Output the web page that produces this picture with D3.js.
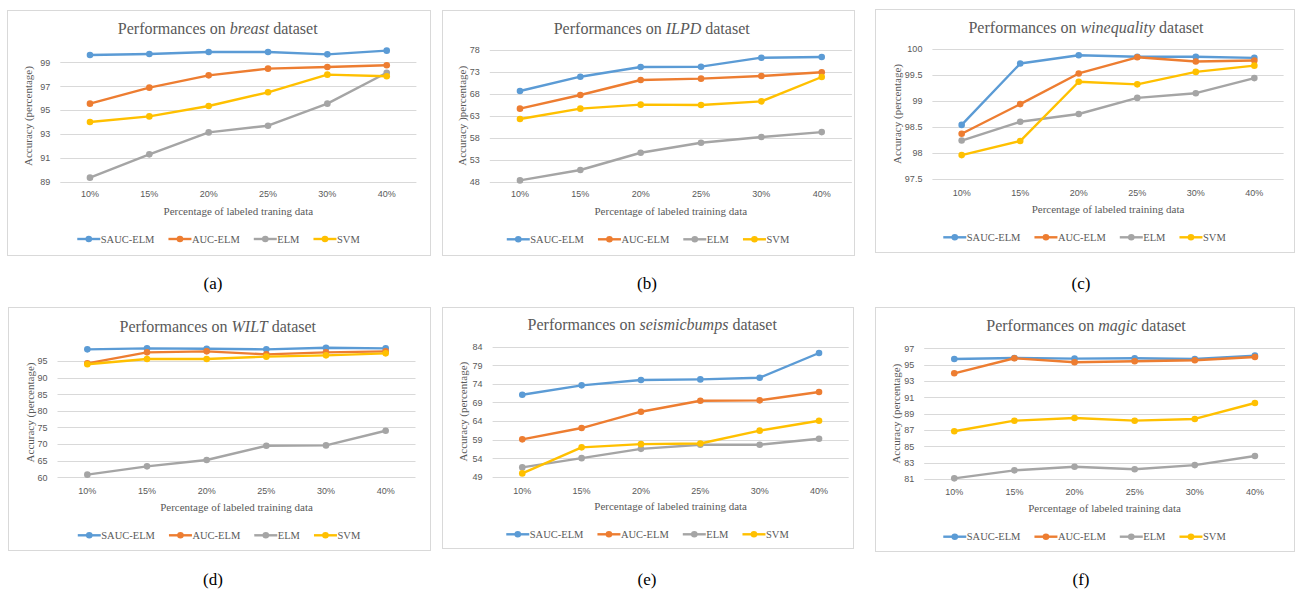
<!DOCTYPE html>
<html>
<head>
<meta charset="utf-8">
<script src="https://cdn.jsdelivr.net/npm/d3@7"></script>
<style>
  html, body { margin: 0; padding: 0; background: #fff; }
  svg { display: block; }
</style>
</head>
<body>
<svg id="chart" width="1295" height="590"></svg>
<script>
// Six Excel-style line charts: SAUC-ELM vs AUC-ELM vs ELM vs SVM on six datasets.

const categories = ["10%", "15%", "20%", "25%", "30%", "40%"];
const seriesNames = ["SAUC-ELM", "AUC-ELM", "ELM", "SVM"];
const seriesColors = ["#5b9bd5", "#ed7d31", "#a5a5a5", "#ffc000"];

// one row per series, in seriesNames order
const breastValues = [
  [99.61, 99.70, 99.87, 99.87, 99.67, 99.98],
  [95.54, 96.88, 97.91, 98.47, 98.61, 98.75],
  [89.34, 91.29, 93.13, 93.69, 95.54, 98.13],
  [94.00, 94.47, 95.34, 96.49, 97.97, 97.83]
];
const ilpdValues = [
  [68.66, 71.92, 74.13, 74.20, 76.25, 76.40],
  [64.64, 67.75, 71.17, 71.47, 72.08, 72.92],
  [48.30, 50.66, 54.60, 56.88, 58.17, 59.30],
  [62.28, 64.64, 65.55, 65.47, 66.30, 71.85]
];
const wineValues = [
  [98.54, 99.72, 99.88, 99.85, 99.85, 99.83],
  [98.37, 98.94, 99.53, 99.84, 99.76, 99.78],
  [98.24, 98.60, 98.75, 99.06, 99.15, 99.44],
  [97.96, 98.23, 99.37, 99.32, 99.56, 99.68]
];
const wiltValues = [
  [98.5, 98.8, 98.7, 98.5, 99.0, 98.8],
  [94.3, 97.6, 97.9, 97.0, 97.6, 97.9],
  [60.8, 63.3, 65.2, 69.5, 69.6, 74.0],
  [94.0, 95.6, 95.6, 96.3, 96.7, 97.3]
];
const seismicValues = [
  [71.07, 73.59, 75.02, 75.20, 75.65, 82.30],
  [59.05, 62.10, 66.50, 69.46, 69.55, 71.80],
  [51.50, 54.00, 56.50, 57.60, 57.60, 59.20],
  [49.89, 56.90, 57.77, 57.95, 61.40, 64.07]
];
const magicValues = [
  [95.69, 95.82, 95.73, 95.78, 95.69, 96.10],
  [93.94, 95.78, 95.29, 95.41, 95.53, 95.94],
  [81.08, 82.06, 82.50, 82.20, 82.70, 83.82],
  [86.84, 88.14, 88.47, 88.14, 88.35, 90.30]
];

const breastTicks = [89, 91, 93, 95, 97, 99];
const ilpdTicks = [48, 53, 58, 63, 68, 73, 78];
const wineTicks = [97.5, 98, 98.5, 99, 99.5, 100];
const wiltTicks = [60, 65, 70, 75, 80, 85, 90, 95];
const seismicTicks = [49, 54, 59, 64, 69, 74, 79, 84];
const magicTicks = [81, 83, 85, 87, 89, 91, 93, 95, 97];

const panels = [
  { caption: "(a)", name: "breast", values: breastValues, ticks: breastTicks, domain: [89, 100],
    xTitle: "Percentage of labeled traning data", yTitle: "Accuracy (percentage)",
    box: [7, 10, 430, 255], plot: [60.3, 50.4, 416.4, 181.7],
    titleX: 217.7, titleY: 28, yTitleX: 28, tickY: 194.3, xTitleY: 210.7, legendY: 239, capX: 213, capY: 283 },
  { caption: "(b)", name: "ILPD", values: ilpdValues, ticks: ilpdTicks, domain: [48, 78],
    xTitle: "Percentage of labeled training data", yTitle: "Accuracy )percentage)",
    box: [442, 10, 854, 255], plot: [489.8, 50, 851.9, 181.7],
    titleX: 651.7, titleY: 28.3, yTitleX: 461.7, tickY: 194.3, xTitleY: 210.7, legendY: 239.3, capX: 647, capY: 283 },
  { caption: "(c)", name: "winequality", values: wineValues, ticks: wineTicks, domain: [97.5, 100],
    xTitle: "Percentage of labeled training data", yTitle: "Accuracy (percentage)",
    box: [875, 9, 1294, 252], plot: [932.4, 49, 1283.6, 179],
    titleX: 1086, titleY: 26.7, yTitleX: 896.7, tickY: 192.7, xTitleY: 209, legendY: 237.3, capX: 1081, capY: 283 },
  { caption: "(d)", name: "WILT", values: wiltValues, ticks: wiltTicks, domain: [60, 99],
    xTitle: "Percentage of labeled training data", yTitle: "Accuracy (percentage)",
    box: [8, 307, 430, 550], plot: [57.5, 347.7, 415.5, 477.3],
    titleX: 217.8, titleY: 326, yTitleX: 30, tickY: 491, xTitleY: 506.7, legendY: 535.3, capX: 213, capY: 579 },
  { caption: "(e)", name: "seismicbumps", values: seismicValues, ticks: seismicTicks, domain: [49, 84],
    xTitle: "Percentage of labeled training data", yTitle: "Accuracy (percentage)",
    box: [442, 307, 853, 548], plot: [492.6, 346.7, 848.7, 476.7],
    titleX: 652.2, titleY: 324.3, yTitleX: 463.3, tickY: 490.7, xTitleY: 505.7, legendY: 534.3, capX: 647, capY: 579 },
  { caption: "(f)", name: "magic", values: magicValues, ticks: magicTicks, domain: [81, 97],
    xTitle: "Percentage of labeled training data", yTitle: "Accuracy (percentage)",
    box: [875, 307, 1294, 551], plot: [924.2, 348.3, 1285, 479],
    titleX: 1086, titleY: 325, yTitleX: 895.7, tickY: 492.3, xTitleY: 507.7, legendY: 536.7, capX: 1081, capY: 579 }
];

const svg = d3.select("#chart");
const serif = "'Liberation Serif', 'Times New Roman', serif";
const sans = "'Liberation Sans', Arial, sans-serif";
const textGray = "#595959";

panels.forEach(p => drawPanel(p));

function drawPanel(p) {
  const [bx0, by0, bx1, by1] = p.box;
  const [left, top, right, bottom] = p.plot;
  const g = svg.append("g");

  g.append("rect")
    .attr("x", bx0 + 0.5).attr("y", by0 + 0.5)
    .attr("width", bx1 - bx0).attr("height", by1 - by0)
    .attr("fill", "#fff").attr("stroke", "#d9d9d9").attr("stroke-width", 1);

  const x = d3.scalePoint().domain(categories).range([left, right]).padding(0.5);
  const y = d3.scaleLinear().domain(p.domain).range([bottom, top]);

  // horizontal gridlines
  g.selectAll(".grid")
    .data(p.ticks)
    .join("line")
    .attr("x1", left).attr("x2", right)
    .attr("y1", d => Math.round(y(d)) + 0.5).attr("y2", d => Math.round(y(d)) + 0.5)
    .attr("stroke", "#d9d9d9").attr("stroke-width", 1);

  // y axis labels
  const yAxis = d3.axisLeft(y).tickValues(p.ticks).tickSize(0).tickPadding(10).tickFormat(d3.format("~g"));
  const ya = g.append("g").attr("transform", `translate(${left},0)`).call(yAxis);
  ya.select(".domain").remove();
  ya.selectAll(".tick text").attr("fill", textGray).attr("font-family", sans).attr("font-size", 9);

  // x axis labels
  g.selectAll(".xlab")
    .data(categories)
    .join("text")
    .attr("x", d => x(d)).attr("y", p.tickY)
    .attr("text-anchor", "middle").attr("dominant-baseline", "central")
    .attr("fill", textGray).attr("font-family", sans).attr("font-size", 9)
    .text(d => d);

  // title with italic dataset name
  const title = g.append("text")
    .attr("x", p.titleX).attr("y", p.titleY)
    .attr("text-anchor", "middle").attr("dominant-baseline", "central")
    .attr("fill", textGray).attr("font-family", serif).attr("font-size", 16);
  title.append("tspan").text("Performances on ");
  title.append("tspan").attr("font-style", "italic").text(p.name);
  title.append("tspan").text(" dataset");

  g.append("text")
    .attr("x", (left + right) / 2).attr("y", p.xTitleY)
    .attr("text-anchor", "middle").attr("dominant-baseline", "central")
    .attr("fill", textGray).attr("font-family", serif).attr("font-size", 11)
    .text(p.xTitle);

  g.append("text")
    .attr("transform", `translate(${p.yTitleX},${(top + bottom) / 2}) rotate(-90)`)
    .attr("text-anchor", "middle").attr("dominant-baseline", "central")
    .attr("fill", textGray).attr("font-family", serif).attr("font-size", 11)
    .text(p.yTitle);

  // series lines and markers
  const line = d3.line().x((d, i) => x(categories[i])).y(d => y(d));
  p.values.forEach((vals, si) => {
    g.append("path")
      .datum(vals)
      .attr("fill", "none")
      .attr("stroke", seriesColors[si])
      .attr("stroke-width", 2.4)
      .attr("stroke-linejoin", "round")
      .attr("d", line);
    g.selectAll(null)
      .data(vals)
      .join("circle")
      .attr("cx", (d, i) => x(categories[i]))
      .attr("cy", d => y(d))
      .attr("r", 3.3)
      .attr("fill", seriesColors[si]);
  });

  // legend, centered under the panel
  const leg = g.append("g");
  let cursor = 0;
  seriesNames.forEach((name, si) => {
    const item = leg.append("g").attr("transform", `translate(${cursor},0)`);
    item.append("line")
      .attr("x1", 0).attr("x2", 23).attr("y1", 0).attr("y2", 0)
      .attr("stroke", seriesColors[si]).attr("stroke-width", 2.4);
    item.append("circle").attr("cx", 11.5).attr("cy", 0).attr("r", 3.3).attr("fill", seriesColors[si]);
    const t = item.append("text")
      .attr("x", 23.5).attr("y", 0)
      .attr("dominant-baseline", "central")
      .attr("fill", textGray).attr("font-family", serif).attr("font-size", 10.5)
      .text(name);
    cursor += 23.5 + t.node().getComputedTextLength() + 14;
  });
  const legWidth = cursor - 14;
  leg.attr("transform", `translate(${(bx0 + bx1) / 2 - legWidth / 2},${p.legendY})`);

  // sub-figure caption
  svg.append("text")
    .attr("x", p.capX).attr("y", p.capY)
    .attr("text-anchor", "middle").attr("dominant-baseline", "central")
    .attr("fill", "#000").attr("font-family", serif).attr("font-size", 17)
    .text(p.caption);
}
</script>
</body>
</html>
